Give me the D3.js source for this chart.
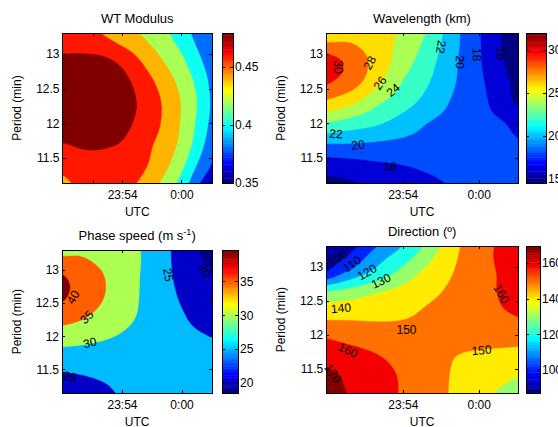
<!DOCTYPE html>
<html><head><meta charset="utf-8">
<script src="https://cdn.jsdelivr.net/npm/d3@7"></script>
<style>
html,body{margin:0;padding:0;background:#fff;}
svg{display:block;}
</style></head><body>
<svg id="chart" width="558" height="427"></svg>
<script>
// ---------------- DATA ----------------
// grid nodes: time in minutes relative to 00:00 UTC, period in minutes
const timeNodes = [-12, -10, -8, -6, -4, -2, 0, 2, 4];
const periodNodes = [11.1, 11.4, 11.7, 12.0, 12.3, 12.6, 12.9, 13.2, 13.5];
const timeDomain = [-12.05, 3.1];
const periodDomain = [11.14, 13.30];
const xTickValues = [-6, 0];
const xTickLabels = ["23:54", "0:00"];
const wtExtraTicks = [-9];           // unlabelled tick seen on the WT Modulus axis
const yTickValues = [11.5, 12, 12.5, 13];
const yTickLabels = ["11.5", "12", "12.5", "13"];

// rows: one per period node (11.1 -> 13.5), columns: time nodes
const wtModulus = [
  [0.454, 0.464, 0.466, 0.464, 0.456, 0.436, 0.411, 0.376, 0.361],
  [0.466, 0.472, 0.473, 0.469, 0.4635, 0.448, 0.425, 0.393, 0.368],
  [0.479, 0.483, 0.4825, 0.4785, 0.467, 0.454, 0.4346, 0.405, 0.372],
  [0.496, 0.497, 0.494, 0.486, 0.4737, 0.459, 0.438, 0.411, 0.38],
  [0.498, 0.499, 0.496, 0.489, 0.476, 0.4595, 0.439, 0.414, 0.382],
  [0.495, 0.496, 0.494, 0.486, 0.4706, 0.453, 0.4335, 0.41, 0.38],
  [0.484, 0.485, 0.484, 0.475, 0.4585, 0.441, 0.424, 0.401, 0.378],
  [0.472, 0.470, 0.464, 0.454, 0.4425, 0.429, 0.4127, 0.392, 0.375],
  [0.464, 0.4595, 0.451, 0.4425, 0.432, 0.421, 0.404, 0.385, 0.365]
];
const wtLevels = [0.36, 0.38, 0.40, 0.42, 0.44, 0.46, 0.48];
const wtRange = [0.35, 0.479];
const wtCbTicks = [0.35, 0.4, 0.45];
const wtCbLabels = ["0.35", "0.4", "0.45"];

const wavelength = [
  [15.0, 15.6, 16.2, 16.9, 17.5, 18.1, 18.5, 18.6, 18.5],
  [17.0, 17.3, 17.7, 18.0, 18.35, 18.6, 18.75, 18.7, 18.5],
  [19.95, 19.9, 19.7, 19.5, 19.3, 19.0, 18.7, 18.4, 18.0],
  [23.85, 23.03, 22.23, 21.12, 19.97, 19.37, 18.77, 18.05, 16.6],
  [27.6, 26.33, 24.32, 22.8, 21.29, 19.76, 18.75, 16.6, 15.2],
  [30.3, 28.9, 26.5, 23.96, 22.14, 20.19, 18.47, 16.32, 15.2],
  [30.9, 29.3, 27.2, 24.96, 22.78, 20.4, 18.25, 15.95, 15.2],
  [27.7, 27.8, 26.77, 25.54, 23.5, 20.66, 18.2, 15.8, 15.0],
  [27.4, 27.5, 27.0, 25.9, 24.4, 20.8, 18.1, 15.8, 15.0]
];
const wavelengthLevels = [16, 18, 20, 22, 24, 26, 28, 30];
const wavelengthRange = [14.5, 32];
const wavelengthCbTicks = [15, 20, 25, 30];
const wavelengthCbLabels = ["15", "20", "25", "30"];
const wavelengthLabels = [
  {text: "30", t: -11.10, p: 12.81, angle: 90},
  {text: "28", t: -8.60, p: 12.87, angle: -62},
  {text: "26", t: -7.79, p: 12.58, angle: -55},
  {text: "24", t: -6.76, p: 12.48, angle: -40},
  {text: "22", t: -11.26, p: 11.85, angle: 4},
  {text: "20", t: -9.52, p: 11.69, angle: -6},
  {text: "18", t: -7.0, p: 11.38, angle: 2},
  {text: "22", t: -2.97, p: 13.10, angle: 99},
  {text: "20", t: -1.47, p: 12.88, angle: 92},
  {text: "18", t: -0.13, p: 12.99, angle: 88},
  {text: "16", t: 1.76, p: 13.01, angle: 85}
];

const phaseSpeed = [
  [22.0, 22.8, 23.9, 25.3, 26.0, 26.2, 26.2, 26.1, 26.0],
  [24.3, 24.9, 25.5, 26.0, 26.3, 26.4, 26.4, 26.3, 26.1],
  [28.3, 28.1, 27.8, 27.5, 27.2, 27.0, 26.8, 26.6, 26.3],
  [32.2, 31.6, 30.7, 29.6, 28.5, 27.3, 26.2, 25.3, 24.5],
  [37.3, 35.6, 33.5, 31.4, 29.4, 27.4, 25.4, 23.6, 22.0],
  [40.6, 38.1, 35.3, 32.5, 29.6, 27.0, 24.5, 22.8, 21.0],
  [40.4, 37.8, 35.3, 32.5, 29.7, 26.6, 23.8, 21.7, 19.6],
  [35.1, 35.0, 33.7, 31.8, 29.9, 26.45, 23.36, 20.0, 18.5],
  [33.5, 33.4, 32.6, 31.2, 29.6, 26.6, 23.0, 19.0, 18.0]
];
const phaseSpeedLevels = [20, 25, 30, 35, 40];
const phaseSpeedRange = [18.5, 39.6];
const phaseSpeedCbTicks = [20, 25, 30, 35];
const phaseSpeedCbLabels = ["20", "25", "30", "35"];
const phaseSpeedLabels = [
  {text: "40", t: -10.94, p: 12.59, angle: -60},
  {text: "35", t: -9.56, p: 12.29, angle: -45},
  {text: "30", t: -9.23, p: 11.90, angle: -15},
  {text: "25", t: -1.33, p: 12.93, angle: 80},
  {text: "20", t: 2.37, p: 13.00, angle: 65},
  {text: "25", t: -11.24, p: 11.39, angle: 15}
];

const direction = [
  [174.5, 168.9, 164, 159.1, 154, 148.9, 143.5, 137, 132],
  [172.5, 167.3, 163.2, 158.9, 154.1, 149.3, 145.8, 142.3, 139],
  [165.5, 163, 160.1, 157, 154, 150.4, 148.6, 147.3, 145.6],
  [158.3, 156, 154.5, 153.8, 153.8, 154.0, 154.5, 155, 155.5],
  [146.3, 147, 147.3, 148.5, 151.6, 154.2, 156.8, 159.3, 161.5],
  [133, 136, 140.3, 144.1, 148, 152.2, 156.6, 161.1, 164],
  [101.5, 114.5, 123.9, 133.8, 143.1, 150.1, 156.3, 161.3, 164],
  [92, 100.7, 113.9, 123.3, 135.5, 148, 155.7, 162.5, 165],
  [88, 93, 102, 115, 126, 146, 155, 161, 164]
];
const directionLevels = [90, 100, 110, 120, 130, 140, 150, 160, 170];
const directionRange = [87, 169.4];
const directionCbTicks = [100, 120, 140, 160];
const directionCbLabels = ["100", "120", "140", "160"];
const directionLabels = [
  {text: "100", t: -11.13, p: 13.13, angle: -30},
  {text: "110", t: -10.02, p: 13.04, angle: -35},
  {text: "120", t: -8.83, p: 12.92, angle: -30},
  {text: "130", t: -7.73, p: 12.79, angle: -25},
  {text: "140", t: -10.89, p: 12.39, angle: -5},
  {text: "150", t: -5.71, p: 12.07, angle: 0},
  {text: "150", t: 0.22, p: 11.77, angle: -5},
  {text: "160", t: 1.80, p: 12.60, angle: 60},
  {text: "160", t: -10.33, p: 11.77, angle: 25},
  {text: "170", t: -11.52, p: 11.43, angle: 55}
];

// ---------------- RENDER ----------------
const FONT = "'Liberation Sans', Arial, Helvetica, sans-serif";
const svg = d3.select("#chart").attr("font-family", FONT);
const defs = svg.append("defs");

function jet(f) {
  f = Math.max(0, Math.min(1, f));
  const c = v => Math.round(255 * Math.max(0, Math.min(1, 1.5 - Math.abs(v))));
  return `rgb(${c(4 * f - 3)},${c(4 * f - 2)},${c(4 * f - 1)})`;
}

// smooth (cubic) rendering of the read-off grid, like a shaded surface
const UP = 6;
function cubic(p0, p1, p2, p3, t) {
  return 0.5 * ((2 * p1) + (-p0 + p2) * t + (2 * p0 - 5 * p1 + 4 * p2 - p3) * t * t
    + (-p0 + 3 * p1 - 3 * p2 + p3) * t * t * t);
}
function resample(arr, f) {
  const n = arr.length;
  const get = i => i < 0 ? 2 * arr[0] - arr[1] : i >= n ? 2 * arr[n - 1] - arr[n - 2] : arr[i];
  const out = [];
  for (let k = 0; k <= (n - 1) * f; k++) {
    const u = k / f;
    const i = Math.min(Math.floor(u), n - 2);
    out.push(cubic(get(i - 1), get(i), get(i + 1), get(i + 2), u - i));
  }
  return out;
}
function refine(grid, f) {
  const rows = grid.map(r => resample(r, f));
  const cols = d3.range(rows[0].length).map(c => resample(rows.map(r => r[c]), f));
  return d3.range(cols[0].length).map(j => cols.map(col => col[j]));
}

const panels = [
  {id: "wt", title: "WT Modulus", grid: wtModulus, levels: wtLevels, range: wtRange,
   cbTicks: wtCbTicks, cbLabels: wtCbLabels, labels: [], extraTicks: wtExtraTicks,
   box: {x0: 62.5, x1: 212, y0: 33, y1: 183}, cb: {x0: 222, x1: 233},
   titleY: 23, ylabX: 21, utcY: 216},
  {id: "wl", title: "Wavelength (km)", grid: wavelength, levels: wavelengthLevels, range: wavelengthRange,
   cbTicks: wavelengthCbTicks, cbLabels: wavelengthCbLabels, labels: wavelengthLabels, extraTicks: [],
   box: {x0: 326, x1: 518, y0: 33, y1: 183}, cb: {x0: 526, x1: 546},
   titleY: 23, ylabX: 285, utcY: 216},
  {id: "ps", title: "Phase speed", grid: phaseSpeed, levels: phaseSpeedLevels, range: phaseSpeedRange,
   cbTicks: phaseSpeedCbTicks, cbLabels: phaseSpeedCbLabels, labels: phaseSpeedLabels, extraTicks: [],
   box: {x0: 62, x1: 212.3, y0: 250.3, y1: 393}, cb: {x0: 222, x1: 238},
   titleY: 240, ylabX: 21, utcY: 425.5},
  {id: "dir", title: "Direction (º)", grid: direction, levels: directionLevels, range: directionRange,
   cbTicks: directionCbTicks, cbLabels: directionCbLabels, labels: directionLabels, extraTicks: [],
   box: {x0: 326.3, x1: 518, y0: 246.3, y1: 393}, cb: {x0: 526, x1: 540},
   titleY: 236, ylabX: 285, utcY: 425.5}
];

const nx = timeNodes.length, ny = periodNodes.length;
const ix = d3.scaleLinear().domain(d3.range(nx)).range(timeNodes);
const iy = d3.scaleLinear().domain(d3.range(ny)).range(periodNodes);

function styleAxis(g) {
  g.attr("font-size", 12).attr("font-family", FONT);
  g.selectAll(".tick line").attr("stroke", "#000");
  g.selectAll(".tick text").attr("fill", "#000");
  g.select(".domain").remove();
  g.attr("shape-rendering", "crispEdges");
}

panels.forEach(P => {
  const b = P.box;
  const g = svg.append("g");
  const x = d3.scaleLinear().domain(timeDomain).range([b.x0, b.x1]);
  const y = d3.scaleLinear().domain(periodDomain).range([b.y1, b.y0]);
  const norm = d3.scaleLinear().domain(P.range).range([0, 1]);
  const color = v => jet(norm(v));

  defs.append("clipPath").attr("id", "clip-" + P.id)
    .append("rect").attr("x", b.x0).attr("y", b.y0)
    .attr("width", b.x1 - b.x0).attr("height", b.y1 - b.y0);

  const plot = g.append("g").attr("clip-path", `url(#clip-${P.id})`);
  plot.append("rect").attr("x", b.x0).attr("y", b.y0)
    .attr("width", b.x1 - b.x0).attr("height", b.y1 - b.y0)
    .attr("fill", color(P.range[0]));

  const fine = refine(P.grid, UP);
  const fnx = fine[0].length, fny = fine.length;
  const values = [];
  fine.forEach(row => row.forEach(v => values.push(v)));
  const contours = d3.contours().size([fnx, fny]).thresholds(P.levels)(values);
  const px = c => x(ix((c - 0.5) / UP));
  const py = c => y(iy((c - 0.5) / UP));
  contours.forEach(ct => {
    let d = "";
    ct.coordinates.forEach(poly => poly.forEach(ring => {
      d += "M" + ring.map(p => px(p[0]).toFixed(2) + "," + py(p[1]).toFixed(2)).join("L") + "Z";
    }));
    if (d) plot.append("path").attr("d", d).attr("fill", color(ct.value))
      .attr("fill-rule", "evenodd").attr("stroke", color(ct.value)).attr("stroke-width", 0.3);
  });

  // contour labels
  P.labels.forEach(L => {
    g.append("text")
      .attr("transform", `translate(${x(L.t)},${y(L.p)}) rotate(${L.angle})`)
      .attr("text-anchor", "middle").attr("dy", "0.35em")
      .attr("font-size", 12).attr("fill", "#000").text(L.text);
  });

  // axes (ticks pointing inward, mirrored on all sides)
  const allX = xTickValues.concat(P.extraTicks);
  const xLab = d => { const i = xTickValues.indexOf(d); return i >= 0 ? xTickLabels[i] : ""; };
  const ax = g.append("g").attr("transform", `translate(0,${b.y1})`)
    .call(d3.axisBottom(x).tickValues(allX).tickFormat(xLab)
      .tickSizeInner(-3).tickSizeOuter(0).tickPadding(7));
  styleAxis(ax);
  const axt = g.append("g").attr("transform", `translate(0,${b.y0})`)
    .call(d3.axisTop(x).tickValues(allX).tickFormat("").tickSizeInner(-3).tickSizeOuter(0));
  styleAxis(axt);
  const ay = g.append("g").attr("transform", `translate(${b.x0},0)`)
    .call(d3.axisLeft(y).tickValues(yTickValues).tickFormat((d, i) => yTickLabels[i])
      .tickSizeInner(-3).tickSizeOuter(0).tickPadding(3));
  styleAxis(ay);
  const ayr = g.append("g").attr("transform", `translate(${b.x1},0)`)
    .call(d3.axisRight(y).tickValues(yTickValues).tickFormat("").tickSizeInner(-3).tickSizeOuter(0));
  styleAxis(ayr);

  g.append("rect").attr("x", b.x0).attr("y", b.y0)
    .attr("width", b.x1 - b.x0).attr("height", b.y1 - b.y0)
    .attr("fill", "none").attr("stroke", "#000").attr("stroke-width", 1)
    .attr("shape-rendering", "crispEdges");

  // title
  const cx = (b.x0 + b.x1) / 2;
  const tt = g.append("text").attr("x", cx).attr("y", P.titleY)
    .attr("text-anchor", "middle").attr("font-size", 13).attr("fill", "#000");
  if (P.id === "ps") {
    tt.append("tspan").text("Phase speed (m s");
    tt.append("tspan").attr("font-size", 9).attr("dy", -5).text("-1");
    tt.append("tspan").attr("font-size", 13).attr("dy", 5).text(")");
  } else {
    tt.text(P.title);
  }
  // axis labels
  g.append("text").attr("transform", `translate(${P.ylabX},${(b.y0 + b.y1) / 2}) rotate(-90)`)
    .attr("text-anchor", "middle").attr("font-size", 12).attr("fill", "#000").text("Period (min)");
  g.append("text").attr("x", cx).attr("y", P.utcY)
    .attr("text-anchor", "middle").attr("font-size", 12).attr("fill", "#000").text("UTC");

  // colorbar
  const cb = P.cb;
  const cy = d3.scaleLinear().domain(P.range).range([b.y1, b.y0]);
  const nC = 64;
  const cbg = g.append("g");
  d3.range(nC).forEach(k => {
    const v0 = P.range[0] + (P.range[1] - P.range[0]) * k / nC;
    const v1 = P.range[0] + (P.range[1] - P.range[0]) * (k + 1) / nC;
    cbg.append("rect").attr("x", cb.x0).attr("width", cb.x1 - cb.x0)
      .attr("y", cy(v1)).attr("height", cy(v0) - cy(v1) + 0.4)
      .attr("fill", jet(k / (nC - 1)));
  });
  const cba = g.append("g").attr("transform", `translate(${cb.x1},0)`)
    .call(d3.axisRight(cy).tickValues(P.cbTicks).tickFormat((d, i) => P.cbLabels[i])
      .tickSizeInner(-3).tickSizeOuter(0).tickPadding(2));
  styleAxis(cba);
  const cbl = g.append("g").attr("transform", `translate(${cb.x0},0)`)
    .call(d3.axisLeft(cy).tickValues(P.cbTicks).tickFormat("").tickSizeInner(-3).tickSizeOuter(0));
  styleAxis(cbl);
  g.append("rect").attr("x", cb.x0).attr("y", b.y0)
    .attr("width", cb.x1 - cb.x0).attr("height", b.y1 - b.y0)
    .attr("fill", "none").attr("stroke", "#000").attr("stroke-width", 1)
    .attr("shape-rendering", "crispEdges");
});
</script>
</body></html>
